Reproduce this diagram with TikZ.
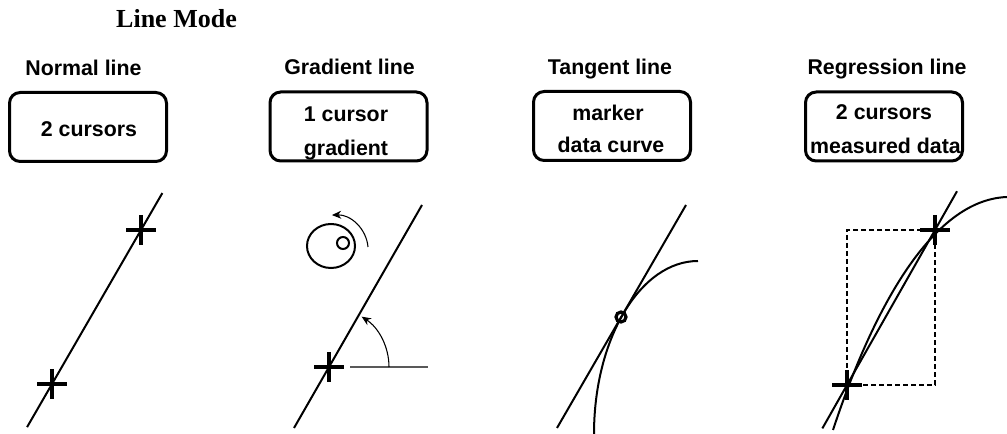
\documentclass[tikz,border=0pt]{standalone}
\usepackage{fontspec}
\setmainfont{Liberation Serif}
\setsansfont{Liberation Sans}
\usetikzlibrary{calc,arrows.meta}
\tikzset{>={Stealth[length=7pt,width=6pt]}}

\begin{document}
\begin{tikzpicture}[x=0.75pt,y=-0.75pt,
	modebox/.style={draw, line width=2.25pt, rounded corners=8pt, minimum width=117.75pt, minimum height=51.75pt, inner sep=0pt},
	boxtext/.style={anchor=base, inner sep=0pt, font=\sffamily\bfseries\fontsize{16}{18}\selectfont},
	modelabel/.style={anchor=base, inner sep=0pt, font=\sffamily\bfseries\fontsize{16}{18}\selectfont},
	trace/.style={line width=1.5pt},
	cursor/.style={line width=2.4pt},
	thinarc/.style={line width=0.8pt}]

	\useasboundingbox (0,0) rectangle (1007,434);

	% headings
	\node[anchor=base, inner sep=0pt, font=\rmfamily\bfseries\fontsize{19.5}{22}\selectfont] (title) at (176.5,28) {Line Mode};
	\node[modelabel] (lblnormal) at (83.5,76) {Normal line};
	\node[modelabel] (lblgradient) at (349.5,75) {Gradient line};
	\node[modelabel] (lbltangent) at (610,75) {Tangent line};
	\node[modelabel] (lblregression) at (887,75) {Regression line};

	% mode boxes
	\node[modebox] (boxnormal) at (88,127) {};
	\node[modebox] (boxgradient) at (348.5,126.5) {};
	\node[modebox] (boxtangent) at (612,126) {};
	\node[modebox] (boxregression) at (884,126.5) {};

	\node[boxtext] (txtnormal) at (89,137) {2 cursors};
	\node[boxtext] (txtgradA) at (346,122) {1 cursor};
	\node[boxtext] (txtgradB) at (346,156) {gradient};
	\node[boxtext] (txttanA) at (608,121) {marker};
	\node[boxtext] (txttanB) at (611,153) {data curve};
	\node[boxtext] (txtregA) at (884,120) {2 cursors};
	\node[boxtext] (txtregB) at (885.5,154) {measured data};

	% cursor positions
	\coordinate (nA) at (52,384);
	\coordinate (nB) at (141,230);
	\coordinate (gA) at (329,367);
	\coordinate (tM) at (621,317);
	\coordinate (rA) at (847,385);
	\coordinate (rB) at (935,230);

	% normal line
	\draw[trace] ($(nA)!-0.28!(nB)$) -- ($(nA)!1.24!(nB)$);

	% gradient line
	\draw[trace] ($(gA)+(-35,61)$) -- ($(gA)+(93,-162)$);
	\draw[line width=1.5pt, black!65] ($(gA)+(21,0)$) -- ($(gA)+(99,0)$);
	\draw[thinarc,->] ($(gA)+(60,0)$) arc (0:-57:60);
	\draw[line width=1.5pt] (331,246) ellipse (24 and 22);
	\draw[line width=1.5pt] (343,243) circle (6);
	\draw[thinarc,->] (368,247) arc (-5:-92:35);

	% tangent line
	\draw[trace] ($(tM)+(-64,111)$) -- ($(tM)+(65,-112)$);
	\draw[trace] (594,434) arc[start angle=180, end angle=270, x radius=104, y radius=173];
	\draw[line width=2.4pt] (tM) circle (5);

	% regression line
	\draw[line width=1.5pt, dash pattern=on 3.75pt off 2.25pt] (rA) -| (rB) -| cycle;
	\draw[trace] ($(rA)!-0.28!(rB)$) -- ($(rA)!1.25!(rB)$);
	\draw[trace] (833,430) .. controls (866,330) and (925,200) .. (1007,197);

	% cursor crosses
	\foreach \c in {nA,nB,gA,rA,rB}
		\draw[cursor] (\c) +(-15,0) -- +(15,0) (\c) +(0,-15) -- +(0,15);

\end{tikzpicture}
\end{document}
